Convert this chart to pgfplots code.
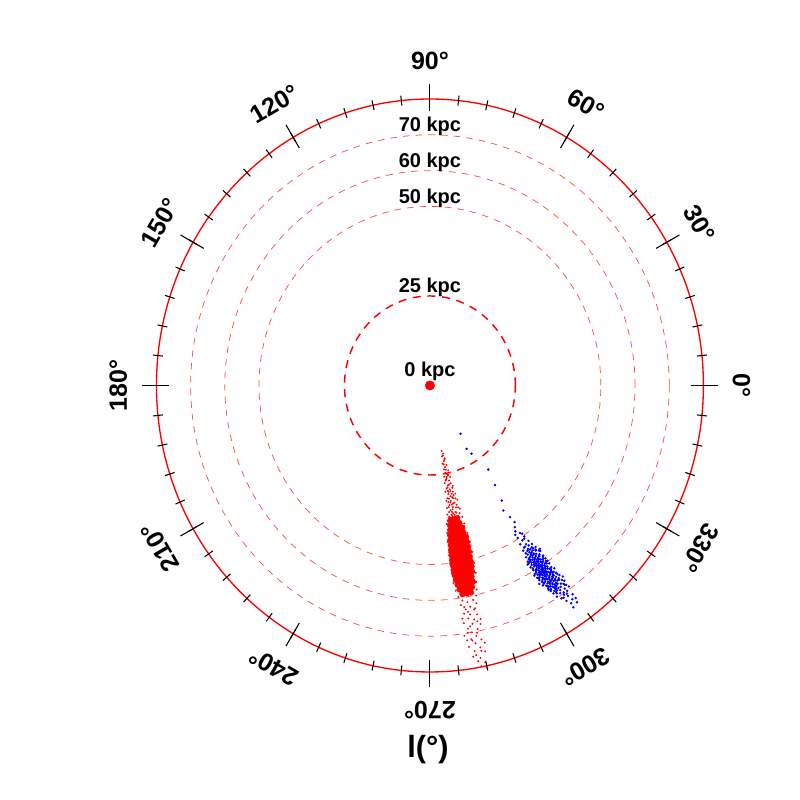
\documentclass[border=0pt]{standalone}
\usepackage{fontspec}
\setmainfont{Liberation Sans}
\usepackage{pgfplots}
\pgfplotsset{compat=1.18}

% 1 px of the reference = 0.75pt; 1 kpc = 2.564pt across, 2.686pt up
\begin{document}
\begin{tikzpicture}
\begin{axis}[
  x=2.564pt, y=2.686pt,
  xmin=-125.77, xmax=108.22, ymin=-115.75, ymax=107.65,
  hide axis, clip=false,
]
\path (rel axis cs:0,0) rectangle (rel axis cs:1,1);

% distance rings
\draw[red!70, line width=0.55pt, dash pattern=on 5pt off 4.5pt] (axis cs:0,0) ellipse [x radius=179.48pt, y radius=188.02pt];
\draw[red!70, line width=0.55pt, dash pattern=on 5pt off 4.5pt] (axis cs:0,0) ellipse [x radius=153.84pt, y radius=161.16pt];
\draw[red!70, line width=0.55pt, dash pattern=on 5pt off 4.5pt] (axis cs:0,0) ellipse [x radius=128.2pt, y radius=134.3pt];
\draw[red, line width=1.1pt, dash pattern=on 6pt off 5pt] (axis cs:0,0) ellipse [x radius=64.1pt, y radius=67.15pt];
\draw[red, line width=1pt] (axis cs:0,0) ellipse [x radius=205.12pt, y radius=214.88pt];

% ticks round the rim
\pgfplotsinvokeforeach{0,6,...,354}{
  \draw[black, line width=0.8pt] ([shift={(#1:-3.75pt)}]axis cs:{80*cos(#1)},{80*sin(#1)}) -- ([shift={(#1:3.75pt)}]axis cs:{80*cos(#1)},{80*sin(#1)});
}
\pgfplotsinvokeforeach{0,30,...,330}{
  \draw[black, line width=0.8pt] ([shift={(#1:-9.2pt)}]axis cs:{80*cos(#1)},{80*sin(#1)}) -- ([shift={(#1:10.9pt)}]axis cs:{80*cos(#1)},{80*sin(#1)});
  \node[rotate=#1-90, anchor=south, inner sep=0pt, font=\fontsize{18.75}{22}\selectfont\bfseries]
    at ([shift={(#1:21.75pt)}]axis cs:{80*cos(#1)},{80*sin(#1)}) {#1°};
}

% ring labels
\node[anchor=base, inner sep=0pt, font=\fontsize{15}{18}\selectfont\bfseries] at ([yshift=2.25pt]axis cs:0,70) {70 kpc};
\node[anchor=base, inner sep=0pt, font=\fontsize{15}{18}\selectfont\bfseries] at ([yshift=2.25pt]axis cs:0,60) {60 kpc};
\node[anchor=base, inner sep=0pt, font=\fontsize{15}{18}\selectfont\bfseries] at ([yshift=2.25pt]axis cs:0,50) {50 kpc};
\node[anchor=base, inner sep=0pt, font=\fontsize{15}{18}\selectfont\bfseries] at ([yshift=2.25pt]axis cs:0,25) {25 kpc};
\node[anchor=base, inner sep=0pt, font=\fontsize{15}{18}\selectfont\bfseries] at ([yshift=6.6pt]axis cs:0,0) {0 kpc};

\node[font=\fontsize{23}{27}\selectfont\bfseries] at (axis cs:-0.6,-101.8) {l(°)};

% centre
\addplot[only marks, mark=*, red, mark size=3.5pt] coordinates {(0,0)};

% LMC: dense core
\addplot[only marks, mark=*, red, mark size=2.2pt, data cs=polar] coordinates {
(279.2,38.0) (280.6,38.0) (282.0,38.0)
(278.6,39.4) (279.9,39.4) (281.2,39.4) (282.6,39.4)
(278.4,40.8) (279.7,40.8) (281.0,40.8) (282.3,40.8) (283.4,40.8)
(278.1,42.2) (279.4,42.2) (280.7,42.2) (282.0,42.2) (283.3,42.2)
(277.9,43.6) (279.2,43.6) (280.5,43.6) (281.8,43.6) (283.1,43.6) (284.0,43.6)
(277.8,45.0) (279.1,45.0) (280.4,45.0) (281.7,45.0) (283.0,45.0) (283.9,45.0)
(277.7,46.4) (279.0,46.4) (280.3,46.4) (281.6,46.4) (282.9,46.4) (283.9,46.4)
(277.6,47.8) (278.9,47.8) (280.2,47.8) (281.5,47.8) (282.8,47.8) (283.8,47.8)
(277.6,49.2) (278.8,49.2) (280.1,49.2) (281.4,49.2) (282.7,49.2) (283.7,49.2)
(277.6,50.6) (278.8,50.6) (280.0,50.6) (281.3,50.6) (282.6,50.6) (283.6,50.6)
(277.7,52.0) (278.9,52.0) (280.1,52.0) (281.3,52.0) (282.5,52.0) (283.5,52.0)
(277.8,53.4) (279.0,53.4) (280.2,53.4) (281.4,53.4) (282.6,53.4) (283.3,53.4)
(278.0,54.8) (279.2,54.8) (280.4,54.8) (281.6,54.8) (282.8,54.8)
(278.3,56.2) (279.5,56.2) (280.7,56.2) (281.9,56.2) (282.9,56.2)
(278.7,57.6) (279.9,57.6) (281.1,57.6) (282.3,57.6)
(279.3,59.0) (280.5,59.0) (281.7,59.0)
};

% LMC: stream, edges and far tail
\addplot[only marks, mark=*, red, mark size=0.5pt, data cs=polar] coordinates {
(280.6,18.6) (281.4,19.4) (280.1,20.1) (281.9,20.8) (280.8,21.5) (279.6,22.1)
(282.3,22.7) (281.0,23.2) (279.9,23.8) (282.7,24.3) (280.5,24.8) (281.6,25.3)
(279.3,25.8) (283.0,26.2) (280.2,26.7) (281.9,27.1) (279.0,27.6) (282.5,28.0)
(280.7,28.4) (283.4,28.8) (279.6,29.2) (281.3,29.6) (278.7,30.0) (282.8,30.4)
(280.0,30.8) (283.8,31.1) (281.0,31.5) (279.2,31.9) (282.2,32.2) (278.5,32.6)
(284.1,32.9) (280.4,33.2) (281.7,33.6) (279.7,33.9) (283.2,34.2) (278.3,34.6)
(282.6,34.9) (280.9,35.2) (284.3,35.5) (279.0,35.8) (281.9,36.1) (278.0,36.4)
(283.7,36.7) (280.2,37.0) (282.9,37.3) (279.4,37.6) (284.5,37.9) (277.8,38.2)
(280.5,30.2) (281.8,31.8) (280.9,33.9) (279.8,35.4) (281.4,36.9) (280.3,28.9)
(280.9,19.9) (281.6,21.2) (280.3,22.4) (281.2,24.0) (282.0,25.6) (280.9,26.0)
(279.8,27.0) (281.5,28.2) (282.9,29.3) (280.1,29.9) (281.9,30.9) (279.9,32.1)
(283.3,32.4) (280.7,32.8) (282.4,33.5) (279.2,34.4) (281.2,34.6) (283.6,35.0)
(280.4,35.9) (282.3,36.3) (279.9,36.6) (281.0,37.4) (283.3,37.8) (278.7,37.1)
(282.0,38.0) (280.8,36.4) (281.5,30.1) (280.6,26.3) (279.4,33.0) (282.7,31.4)
(277.2,39.0) (284.6,39.8) (277.0,41.5) (284.8,42.6) (276.8,44.0) (285.0,45.2)
(276.9,47.0) (284.9,48.1) (276.7,50.0) (284.6,51.2) (276.9,52.8) (284.4,54.0)
(277.1,55.6) (283.9,56.5) (277.5,57.8) (283.5,58.6) (278.0,59.6) (283.0,60.2)
(279.0,60.8) (281.9,61.2) (280.3,61.5) (278.4,62.0) (282.6,62.3) (277.6,46.2)
(284.2,44.6) (277.3,53.8) (283.8,49.8)
(280.8,62.9) (279.5,63.4) (281.7,63.9) (278.9,64.5) (280.4,65.0) (282.2,65.4)
(279.8,66.0) (281.2,66.6) (278.5,67.1) (280.6,67.7) (282.5,68.2) (279.3,68.8)
(281.6,69.4) (280.1,70.0) (278.2,70.6) (281.0,71.2) (279.7,71.9) (282.0,72.5)
(280.5,73.2) (278.9,73.9) (281.4,74.6) (280.0,75.3) (282.3,76.0) (279.5,76.8)
(281.0,77.5) (280.4,78.3) (281.8,79.0) (280.9,79.8) (279.9,72.3) (281.9,67.3)
(280.0,64.2) (279.1,69.9) (281.9,80.5)
(278.3,65.8) (282.8,66.9) (279.9,68.3) (281.3,70.4) (278.7,72.0) (282.6,73.6)
(280.2,76.5) (281.5,75.6) (279.2,62.7) (282.0,63.6)
};

% SMC
\addplot[only marks, mark=*, blue, mark size=0.7pt, data cs=polar] coordinates {
(303.6,16.2) (301.2,20.7) (302.6,22.6) (306.0,29.0) (304.4,33.7) (303.2,38.4)
(302.5,43.6) (301.6,41.0) (303.0,45.5) (302.1,46.7)
(301.5,47.8) (302.6,48.9) (301.1,49.7) (303.2,50.4) (302.0,51.0) (300.8,51.6)
(303.6,52.1) (302.4,52.5)
(301.3,53.0) (302.9,53.2) (304.0,53.4) (300.6,53.6) (302.1,53.9)
(303.4,54.1) (301.7,54.3) (302.7,54.4) (300.9,54.6) (304.4,54.7) (302.0,54.9)
(303.1,55.0) (301.2,55.2) (302.5,55.3) (303.9,55.5) (300.4,55.6) (301.9,55.8) (302.9,55.9)
(304.7,56.0) (301.5,56.1) (302.3,56.2) (303.5,56.4) (300.8,56.5) (302.0,56.6) (303.0,56.8) (301.2,56.9)
(304.2,57.0) (302.6,57.1) (301.7,57.2) (303.8,57.3) (300.3,57.4) (302.2,57.5) (303.3,57.6) (301.0,57.7) (302.9,57.8) (304.9,57.9)
(301.9,58.0) (303.1,58.1) (302.4,58.2) (300.7,58.3) (303.7,58.4) (301.4,58.5) (302.8,58.6) (304.3,58.7) (302.0,58.8) (303.4,58.9)
(301.1,59.0) (302.6,59.1) (304.0,59.2) (300.5,59.3) (302.2,59.4) (303.6,59.5) (301.7,59.6) (303.0,59.7) (305.1,59.8) (302.4,59.9)
(301.3,60.0) (303.3,60.1) (302.0,60.2) (304.5,60.3) (300.9,60.4) (302.8,60.5) (301.6,60.6) (303.8,60.7) (302.3,60.8) (303.0,60.9) (300.2,60.95)
(302.6,61.0) (304.2,61.1) (301.4,61.2) (303.4,61.3) (302.1,61.4) (300.8,61.5) (303.9,61.6) (302.9,61.7) (301.8,61.8) (305.0,61.9) (302.4,61.95)
(303.2,62.0) (301.1,62.1) (302.7,62.2) (304.6,62.3) (301.9,62.4) (303.6,62.5) (300.6,62.6) (302.3,62.7) (303.0,62.8) (304.1,62.9) (301.5,62.95)
(302.8,63.0) (303.8,63.1) (301.7,63.2) (302.5,63.3) (304.8,63.4) (301.2,63.5) (303.3,63.6) (302.1,63.7) (304.3,63.8) (300.9,63.9)
(303.0,64.0) (302.4,64.1) (303.9,64.2) (301.6,64.3) (302.8,64.4) (305.3,64.5) (301.0,64.6) (303.5,64.7) (302.2,64.8) (304.6,64.9)
(303.2,65.0) (301.9,65.1) (302.7,65.2) (304.1,65.3) (301.3,65.4) (303.6,65.5) (302.4,65.6) (305.0,65.7) (303.0,65.8) (301.7,65.9)
(304.4,66.0) (302.9,66.1) (302.0,66.2) (303.8,66.3) (301.4,66.4) (303.3,66.5) (305.4,66.6) (302.6,66.7) (304.0,66.8)
(301.9,67.0) (303.5,67.1) (302.8,67.2) (304.7,67.3) (301.6,67.4) (303.1,67.6) (305.2,67.8) (302.4,67.9)
(304.2,68.0) (303.0,68.2) (301.9,68.4) (305.6,68.5) (303.7,68.7) (302.6,68.9)
(304.8,69.1) (303.3,69.4) (302.2,69.7) (305.0,70.0) (303.9,70.4) (302.9,70.8)
(304.5,71.3) (305.6,71.7) (303.6,72.2) (304.9,72.8) (304.2,73.5) (305.4,74.3)
(300.1,58.7) (305.5,62.7) (299.9,61.3) (304.9,56.4) (300.6,64.9) (305.8,67.2)
(301.3,66.8) (304.6,58.2) (302.2,55.6) (303.7,63.4) (301.0,60.1) (305.2,64.0)
(300.4,59.8) (303.9,57.4) (302.5,65.3) (304.3,61.9) (301.8,63.6) (300.9,62.4)
(303.4,59.1) (305.9,69.3) (302.9,67.6) (301.5,57.9) (304.8,66.1) (302.0,61.6)
(303.6,54.6) (300.2,56.9) (304.1,69.8) (302.7,58.4) (301.2,64.4) (303.0,56.1)
(305.1,60.7) (301.9,59.2) (304.4,63.2) (300.7,60.8) (303.2,66.9) (302.3,63.0)
(304.0,65.6) (301.6,62.0) (302.8,60.3) (303.5,61.1) (301.4,58.9) (304.7,59.6)
(302.1,57.3) (303.8,64.6) (300.5,63.1) (305.3,68.1) (302.6,68.4) (303.1,62.3)
(301.7,61.0) (304.2,60.0) (302.4,59.5) (303.3,58.0) (302.9,64.9) (301.0,56.3)
(304.5,62.6) (300.8,57.1) (303.6,67.9) (302.2,66.3) (305.6,65.1) (301.5,65.8)
(304.0,55.3) (302.5,62.9) (303.7,60.4) (301.9,63.9) (302.0,58.6) (303.1,63.9)
(302.7,61.4) (301.3,61.7) (304.3,64.2) (300.3,62.2) (305.0,58.9) (303.9,66.6)
(302.3,54.2) (301.8,67.1) (304.6,70.6) (303.4,71.0) (305.7,73.1) (304.1,74.8)
(302.8,50.9) (301.7,52.9) (300.9,48.6) (303.1,49.4) (305.2,55.8) (299.8,57.6)
(306.1,66.0) (300.0,64.0)
};
\end{axis}
\end{tikzpicture}
\end{document}
